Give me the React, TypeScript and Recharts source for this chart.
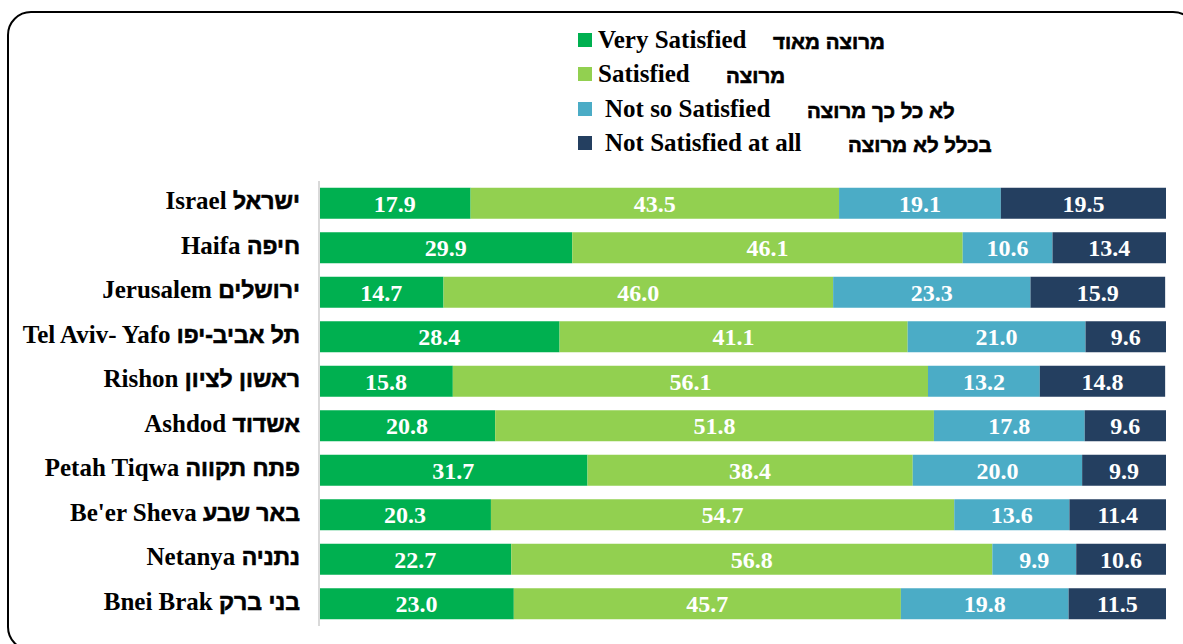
import { BarChart, Bar, XAxis, YAxis, LabelList, Legend } from 'recharts';

const citiesEn = ['Israel', 'Haifa', 'Jerusalem', 'Tel Aviv- Yafo', 'Rishon', 'Ashdod', 'Petah Tiqwa', "Be'er Sheva", 'Netanya', 'Bnei Brak'];
const citiesHe = ['ישראל', 'חיפה', 'ירושלים', 'תל אביב-יפו', 'ראשון לציון', 'אשדוד', 'פתח תקווה', 'באר שבע', 'נתניה', 'בני ברק'];

const verySatisfied = [17.9, 29.9, 14.7, 28.4, 15.8, 20.8, 31.7, 20.3, 22.7, 23.0];
const satisfied = [43.5, 46.1, 46.0, 41.1, 56.1, 51.8, 38.4, 54.7, 56.8, 45.7];
const notSoSatisfied = [19.1, 10.6, 23.3, 21.0, 13.2, 17.8, 20.0, 13.6, 9.9, 19.8];
const notSatisfied = [19.5, 13.4, 15.9, 9.6, 14.8, 9.6, 9.9, 11.4, 10.6, 11.5];

const seriesEn = ['Very Satisfied', 'Satisfied', 'Not so Satisfied', 'Not Satisfied at all'];
const seriesHe = ['מרוצה מאוד', 'מרוצה', 'לא כל כך מרוצה', 'בכלל לא מרוצה'];
const seriesKeys = ['very', 'sat', 'notSo', 'notAll'];
const colors = ['#00B050', '#92D050', '#4BACC6', '#243F60'];

const data = citiesEn.map((en, i) => ({
  en,
  he: citiesHe[i],
  name: en + ' ' + citiesHe[i],
  very: verySatisfied[i],
  sat: satisfied[i],
  notSo: notSoSatisfied[i],
  notAll: notSatisfied[i],
}));

const serif = '"Liberation Serif", "Times New Roman", serif';
const hebrew = '"Liberation Sans", Arial, "DejaVu Sans", sans-serif';

// legend rows: english text left, hebrew shifted per row like the original
const hebrewLeft = [195, 148, 229, 270];
const englishIndent = [20, 20, 27, 27];

function LegendBox() {
  return (
    <div style={{ position: 'relative', width: 1183, height: 170 }}>
      {seriesEn.map((label, i) => (
        <div key={label} style={{ position: 'absolute', left: 578, top: 26 + i * 34.3, height: 28, width: 500 }}>
          <div style={{ position: 'absolute', left: 0, top: 7, width: 14, height: 14, background: colors[i] }} />
          <span style={{ position: 'absolute', left: englishIndent[i], top: 0, fontFamily: serif, fontWeight: 700, fontSize: 25, lineHeight: '28px', color: '#000', whiteSpace: 'nowrap' }}>
            {label}
          </span>
          <span dir="rtl" style={{ position: 'absolute', left: hebrewLeft[i], top: 2, fontFamily: hebrew, fontWeight: 700, fontSize: 20.5, lineHeight: '28px', color: '#000', whiteSpace: 'nowrap', WebkitTextStroke: '0.6px #000' }}>
            {seriesHe[i]}
          </span>
        </div>
      ))}
    </div>
  );
}

function CityTick(props: any) {
  const { x, y, index } = props;
  return (
    <text x={x} y={y} dy="0.36em" textAnchor="end" fill="#000" fontWeight={700}>
      <tspan fontFamily={serif} fontSize={25}>{citiesEn[index]} </tspan>
      <tspan fontFamily={hebrew} fontSize={23} stroke="#000" strokeWidth={0.6}>{citiesHe[index]}</tspan>
    </text>
  );
}

const fmt = (v: any) => Number(v).toFixed(1);

export default function App() {
  return (
    <div style={{ position: 'fixed', left: 0, top: 0, width: 1183, height: 644, overflow: 'hidden', background: '#fff' }}>
      <div style={{ position: 'absolute', left: 7, top: 11, width: 1190, height: 640, border: '2px solid #000', borderRadius: 24, boxSizing: 'border-box' }} />
      <div style={{ position: 'absolute', left: 0, top: 0 }}>
        <BarChart
          width={1183}
          height={644}
          data={data}
          layout="vertical"
          margin={{ top: 181, right: 17, bottom: 18, left: 0 }}
          barCategoryGap="15%"
        >
          <XAxis type="number" domain={[0, 100]} allowDataOverflow hide />
          <YAxis
            type="category"
            dataKey="name"
            width={319}
            axisLine={{ stroke: '#d9d9d9', strokeWidth: 2 }}
            tickLine={false}
            tickSize={0}
            tickMargin={19}
            interval={0}
            tick={<CityTick />}
          />
          <Legend
            layout="horizontal"
            verticalAlign="middle"
            align="center"
            wrapperStyle={{ position: 'absolute', top: 0, left: 0, width: 1183, height: 170 }}
            content={() => <LegendBox />}
          />
          {seriesKeys.map((k, i) => (
            <Bar key={k} dataKey={k} stackId="a" fill={colors[i]} isAnimationActive={false}>
              <LabelList
                dataKey={k}
                position="center"
                formatter={fmt}
                fill="#fff"
                style={{ fontFamily: serif, fontWeight: 700, fontSize: 24 }}
              />
            </Bar>
          ))}
        </BarChart>
      </div>
    </div>
  );
}
